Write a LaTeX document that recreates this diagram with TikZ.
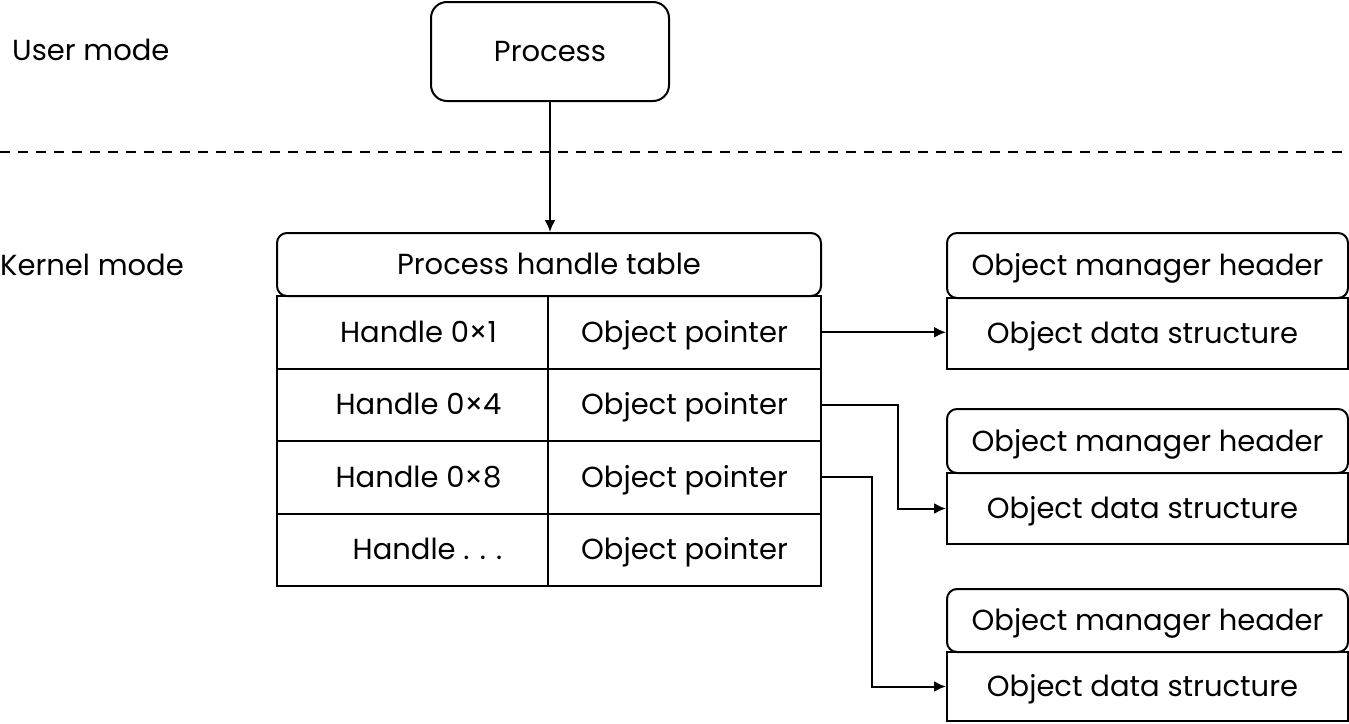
\documentclass[tikz,border=0pt]{standalone}
\usepackage{fontspec}
\setmainfont{Poppins}
\usetikzlibrary{arrows.meta}
\newcommand\dfont{\fontsize{29}{35}\selectfont}
\begin{document}
\begin{tikzpicture}[x=1pt,y=-1pt,
  box/.style={draw, line width=2pt, inner sep=0pt, anchor=north west, font=\dfont, text height=20pt, text depth=0pt},
  rbox/.style={box, rounded corners=10pt},
  lbl/.style={inner sep=0pt, anchor=west, font=\dfont, text height=20pt, text depth=0pt},
  conn/.style={draw, line width=2pt, -{Latex[length=12pt,width=11pt]}}]
\useasboundingbox (0,0) rectangle (1349,723);
% labels
\node[lbl] (user) at (12,50) {User mode};
\node[lbl] (kern) at (0,265) {Kernel mode};
% dashed separator
\coordinate (dl) at (0,152);
\coordinate (dr) at (1349,152);
\draw[line width=1.6pt, dash pattern=on 10pt off 8pt] (dl) -- (dr);
% process
\node[rbox, rounded corners=16pt, minimum width=238pt, minimum height=99pt] (proc) at (430,1) {Process};
% handle table
\node[rbox, minimum width=544pt, minimum height=63pt] (tab) at (276,232) {Process handle table};
\node[box, minimum width=271pt, minimum height=72.5pt] (h1) at (276,295) {\hspace*{12pt}Handle 0×1};
\node[box, minimum width=273pt, minimum height=72.5pt] (p1) at (547,295) {Object pointer};
\node[box, minimum width=271pt, minimum height=72.5pt] (h2) at (276,367.5) {\hspace*{12pt}Handle 0×4};
\node[box, minimum width=273pt, minimum height=72.5pt] (p2) at (547,367.5) {Object pointer};
\node[box, minimum width=271pt, minimum height=72.5pt] (h3) at (276,440) {\hspace*{12pt}Handle 0×8};
\node[box, minimum width=273pt, minimum height=72.5pt] (p3) at (547,440) {Object pointer};
\node[box, minimum width=271pt, minimum height=72.5pt] (h4) at (276,512.5) {\hspace*{30pt}Handle . . .};
\node[box, minimum width=273pt, minimum height=72.5pt] (p4) at (547,512.5) {Object pointer};
% objects
\node[rbox, minimum width=401pt, minimum height=65pt] (m1) at (946,232) {Object manager header};
\node[box, minimum width=401pt, minimum height=71pt] (d1) at (946,297) {Object data structure\hspace*{10pt}};
\node[rbox, minimum width=401pt, minimum height=64pt] (m2) at (946,408) {Object manager header};
\node[box, minimum width=401pt, minimum height=71pt] (d2) at (946,472) {Object data structure\hspace*{10pt}};
\node[rbox, minimum width=401pt, minimum height=63pt] (m3) at (946,588) {Object manager header};
\node[box, minimum width=401pt, minimum height=69pt] (d3) at (946,651) {Object data structure\hspace*{10pt}};
% connectors
\draw[conn] (proc.south) -- (proc.south |- tab.north);
\draw[conn] (p1.east) -- (p1.east -| d1.west);
\draw[conn] (p2.east) -- ++(76,0) |- (d2.west);
\draw[conn] (p3.east) -- ++(50,0) |- (d3.west);
\end{tikzpicture}
\end{document}
